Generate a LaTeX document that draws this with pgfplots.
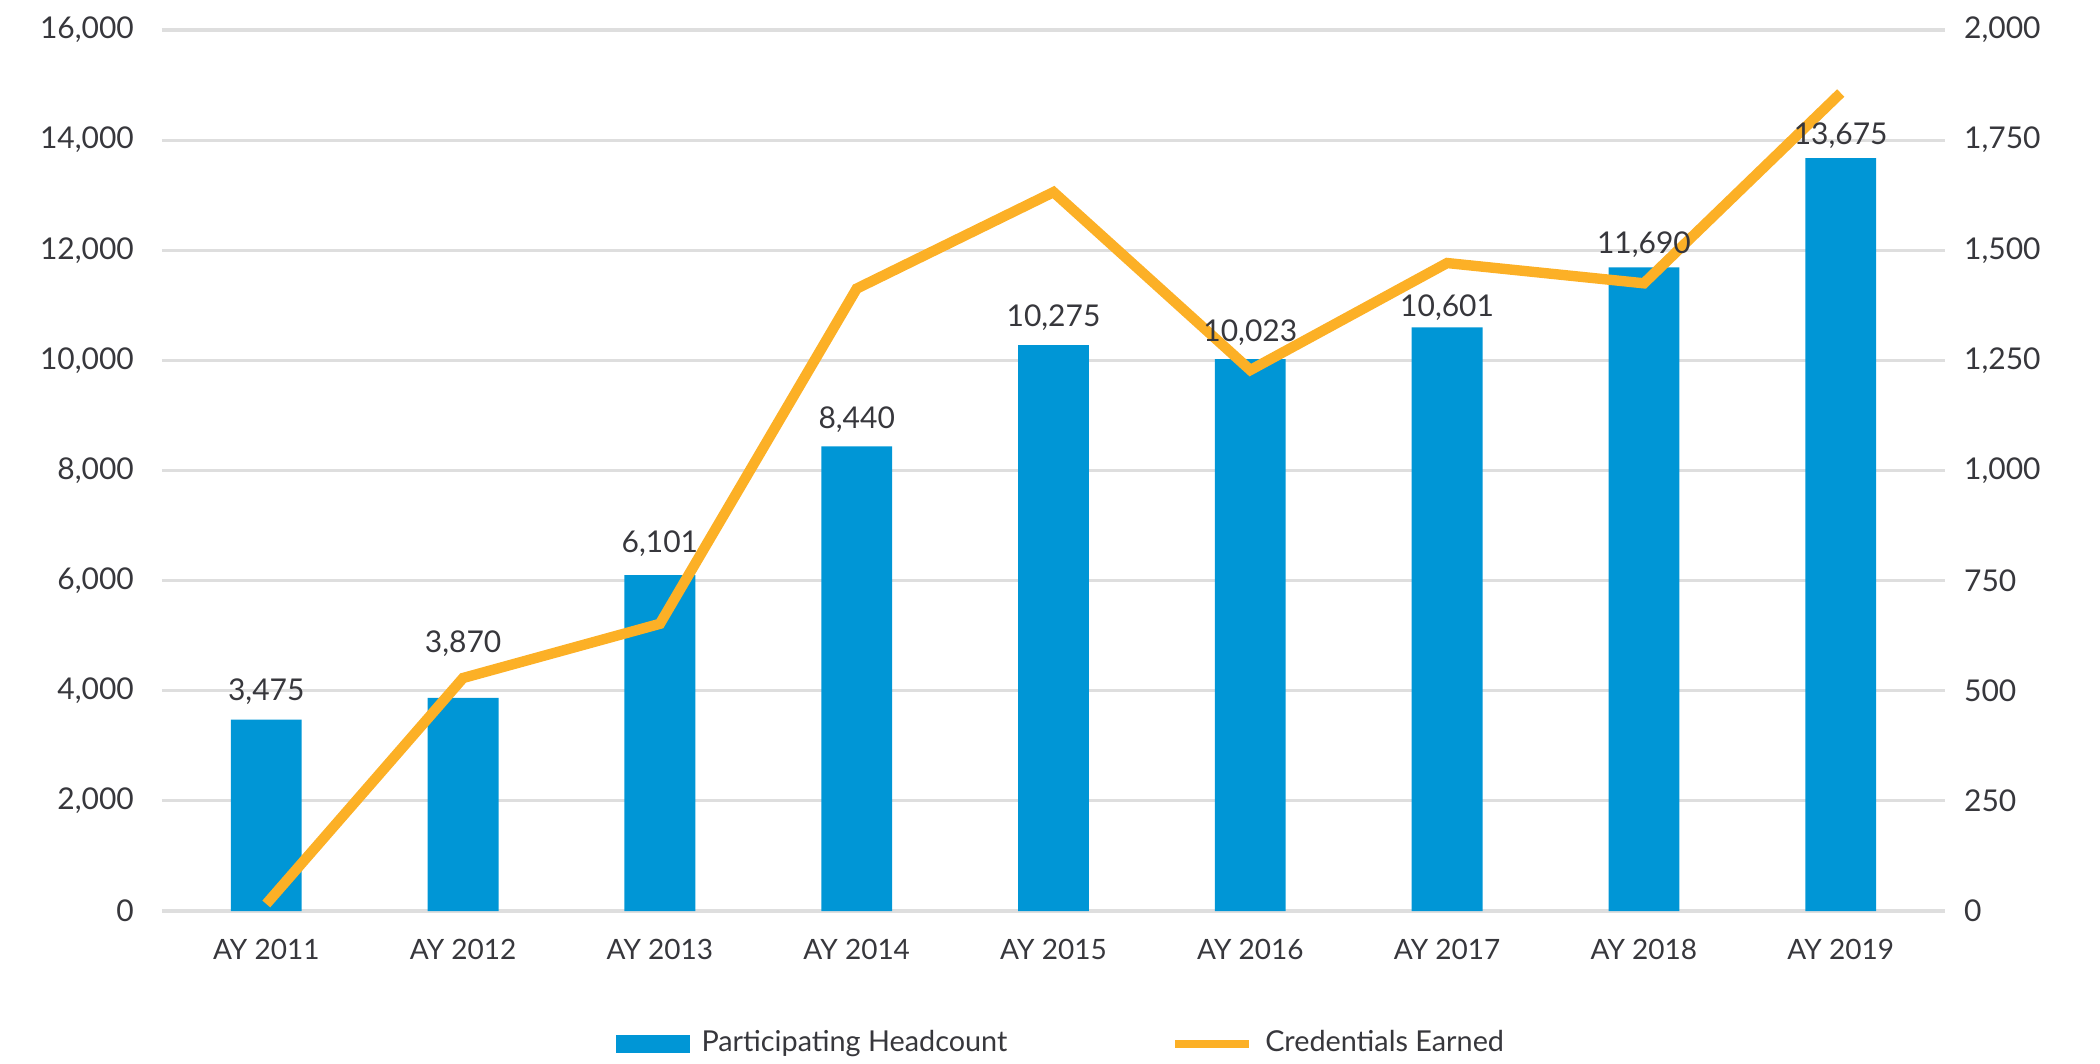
\documentclass[border=0pt]{standalone}
\usepackage{pgfplots}
\usepackage{pgfplotstable}
\pgfplotsset{compat=1.18}
\usepackage{fontspec}
\setmainfont{Lato}
\definecolor{barblue}{RGB}{0,150,214}
\definecolor{lineorange}{RGB}{252,176,38}
\definecolor{gridgray}{RGB}{222,222,222}
\definecolor{txt}{RGB}{55,55,60}
\pgfplotstableread{
x y off
0 3475 0.2
1 3870 6.9
2 6101 1.2
3 8440 -0.2
4 10275 0.2
5 10023 -0.2
6 10601 -1.8
7 11690 -1.2
8 13675 -1.2
}\bardata
\pgfplotstableread{
x y
0 16
1 529
2 652
3 1413
4 1632
5 1228
6 1471
7 1425
8 1857
}\linedata
\begin{document}
\begin{tikzpicture}[font=\fontsize{7.5}{9}\selectfont, text=txt]
\useasboundingbox (-40.5pt,-38pt) rectangle (484.5pt,227.75pt);
\begin{axis}[
  at={(0pt,0pt)}, anchor=south west,
  width=445.75pt, height=220.25pt, scale only axis,
  xmin=-0.53, xmax=8.53, ymin=0, ymax=16000,
  axis line style={draw=none}, major tick length=0pt,
  ybar, bar width=0.36,
  xtick={0,...,8},
  xticklabels={AY 2011,AY 2012,AY 2013,AY 2014,AY 2015,AY 2016,AY 2017,AY 2018,AY 2019},
  xticklabel style={yshift=-3.5pt, font=\fontsize{7}{9}\selectfont},
  ytick={0,2000,...,16000},
  scaled y ticks=false,
  /pgf/number format/assume math mode=true,
  /pgf/number format/1000 sep={,},
  yticklabel style={xshift=-3.5pt},
  ymajorgrids, grid style={gridgray, line width=0.8pt},
]
\addplot[fill=barblue, draw=none] table[x=x, y=y] {\bardata};
\end{axis}
\begin{axis}[
  at={(0pt,0pt)}, anchor=south west,
  width=445.75pt, height=220.25pt, scale only axis,
  xmin=-0.53, xmax=8.53, ymin=0, ymax=2000,
  axis x line=none, axis y line*=right,
  axis line style={draw=none}, major tick length=0pt,
  ytick={0,250,...,2000},
  scaled y ticks=false,
  /pgf/number format/assume math mode=true,
  /pgf/number format/1000 sep={,},
  yticklabel style={xshift=1.25pt},
  legend columns=2,
  legend style={at={(0.507,0)}, anchor=center, yshift=-33.25pt, draw=none, fill=none,
    font=\fontsize{7.2}{9}\selectfont,
    /tikz/every even column/.append style={column sep=38pt},
    nodes={inner xsep=3pt}},
]
\addlegendimage{legend image code/.code={\fill[barblue] (0pt,-2pt) rectangle (18pt,2pt);}}
\addlegendentry{Participating Headcount}
\addplot[lineorange, line width=2.6pt, mark=none,
  legend image code/.code={\draw[lineorange, line width=2pt] (0pt,0pt)--(18.5pt,0pt);}]
  table[x=x, y=y] {\linedata};
\addlegendentry{Credentials Earned}
\end{axis}
\begin{axis}[
  at={(0pt,0pt)}, anchor=south west,
  width=445.75pt, height=220.25pt, scale only axis,
  xmin=-0.53, xmax=8.53, ymin=0, ymax=16000,
  hide axis, ybar, bar width=0.36,
  /pgf/number format/assume math mode=true,
  /pgf/number format/1000 sep={,},
]
\addplot[draw=none, fill=none,
  visualization depends on={\thisrow{off} \as \myoff},
  nodes near coords,
  nodes near coords style={anchor=south, text=txt, yshift=\myoff pt, /pgf/number format/1000 sep={,}},
  ] table[x=x, y=y] {\bardata};
\end{axis}
\end{tikzpicture}
\end{document}
